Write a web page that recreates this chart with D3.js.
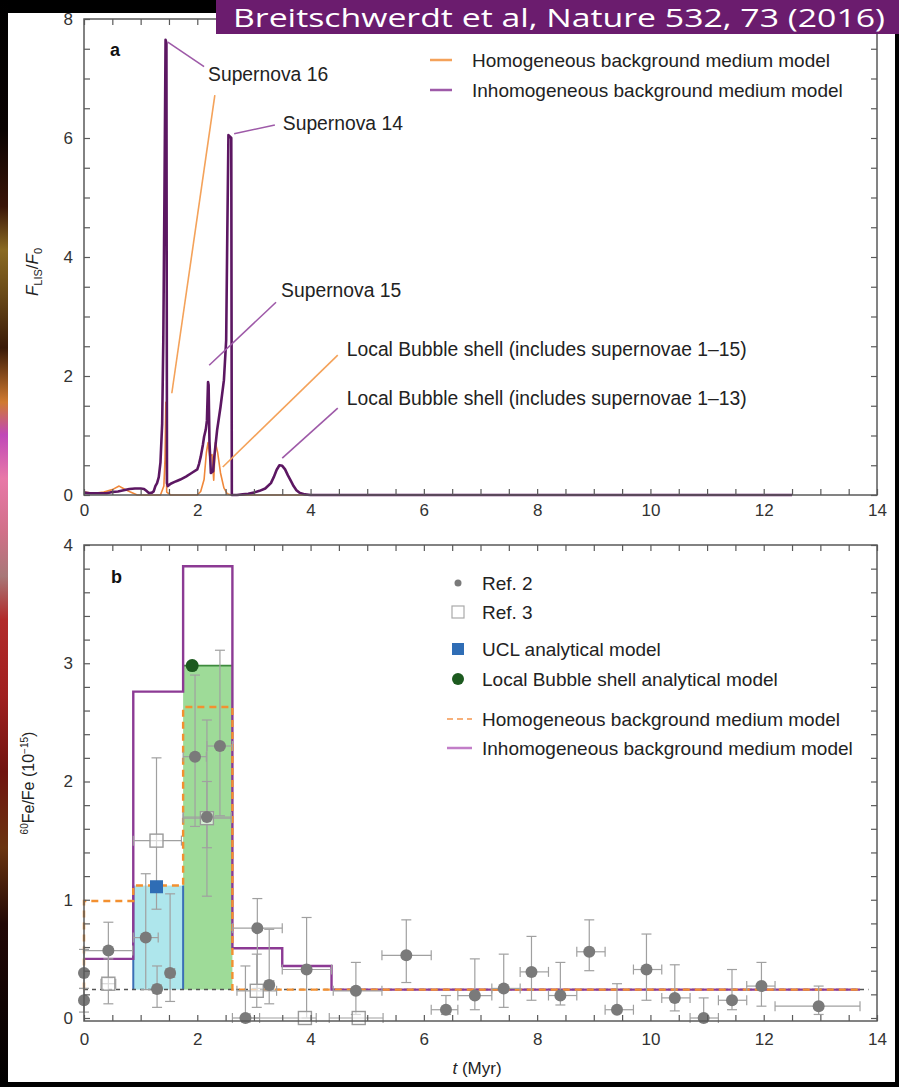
<!DOCTYPE html>
<html>
<head>
<meta charset="utf-8">
<script src="https://cdn.jsdelivr.net/npm/d3@7"></script>
<style>
  html, body { margin: 0; padding: 0; background: #000; }
  svg { display: block; }
</style>
</head>
<body>
<script>
// ---------- Panel a: flux ratio F_LIS/F_0 versus time ----------
const inhomT = [0, 0.1, 0.2, 0.3, 0.4, 0.5, 0.6, 0.7, 0.8, 0.9, 1.0, 1.06, 1.1, 1.15, 1.2, 1.23, 1.26, 1.29, 1.32, 1.35, 1.38, 1.40, 1.42, 1.44, 1.455, 1.465, 1.48, 1.53, 1.6, 1.65, 1.7, 1.8, 1.9, 2.0, 2.03, 2.06, 2.1, 2.12, 2.15, 2.17, 2.19, 2.2, 2.215, 2.24, 2.28, 2.30, 2.35, 2.41, 2.47, 2.51, 2.53, 2.55, 2.6, 2.61, 2.7, 2.8, 2.9, 3.0, 3.1, 3.2, 3.3, 3.35, 3.4, 3.45, 3.5, 3.55, 3.6, 3.65, 3.7, 3.75, 3.8, 3.9, 4.0, 12.5];
const inhomFlux = [0.04, 0.03, 0.03, 0.03, 0.03, 0.05, 0.06, 0.08, 0.1, 0.11, 0.11, 0.1, 0.07, 0.03, 0.04, 0.06, 0.15, 0.2, 0.3, 0.55, 1.2, 2.6, 5.0, 7.65, 7.6, 0.2, 0.15, 0.19, 0.22, 0.24, 0.26, 0.31, 0.37, 0.43, 0.52, 0.64, 0.85, 0.98, 1.1, 1.25, 1.9, 1.85, 0.9, 0.37, 0.4, 0.64, 1.09, 1.48, 1.93, 2.6, 4.4, 6.05, 6.0, 0.0, 0.0, 0.01, 0.02, 0.04, 0.07, 0.11, 0.2, 0.3, 0.42, 0.5, 0.49, 0.43, 0.33, 0.24, 0.15, 0.08, 0.04, 0.01, 0.0, 0.0];

const homT = [0, 0.18, 0.35, 0.5, 0.62, 0.71, 0.82, 0.94, 1.35, 1.41, 1.43, 1.445, 1.46, 1.53, 2.0, 2.06, 2.12, 2.16, 2.19, 2.22, 2.26, 2.29, 2.32, 2.36, 2.41, 2.47, 2.53, 2.6, 12.5];
const homFlux = [0.05, 0.03, 0.05, 0.09, 0.15, 0.1, 0.05, 0.0, 0.0, 0.15, 0.6, 1.56, 0.05, 0.0, 0.0, 0.06, 0.26, 0.71, 0.88, 0.65, 0.68, 0.25, 0.88, 0.71, 0.37, 0.12, 0.02, 0.0, 0.0];

const xTicksMajor = [0, 2, 4, 6, 8, 10, 12, 14];
const yTicksA = [0, 2, 4, 6, 8];
const yTicksB = [0, 1, 2, 3, 4];

// ---------- Panel b: 60Fe/Fe ratio, binned model histograms ----------
const binEdges = [0, 0.87, 1.75, 2.62, 3.5, 4.37, 13.7];
const inhomRatio = [0.5, 2.76, 3.82, 0.59, 0.44, 0.24];
const homRatio = [0.99, 1.12, 2.63, 0.24, 0.24, 0.24];
const backgroundLevel = 0.24;
const uclBin = [0.87, 1.75];
const uclValue = 1.12;
const shellBin = [1.75, 2.62];
const shellValue = 2.98;
const uclPoint = [1.28, 1.11];
const shellPoint = [1.91, 2.98];

// Ref. 2 measurements: time, value, lower, upper, time lower, time upper
const ref2T    = [0, 0, 0.43, 1.09, 1.29, 1.52, 1.96, 2.17, 2.40, 2.85, 3.06, 3.27, 3.93, 4.80, 5.69, 6.39, 6.90, 7.41, 7.90, 8.41, 8.92, 9.41, 9.93, 10.43, 10.94, 11.44, 11.96, 12.97];
const ref2V    = [0.38, 0.15, 0.57, 0.68, 0.245, 0.38, 2.21, 1.70, 2.30, 0.0, 0.76, 0.28, 0.41, 0.23, 0.53, 0.07, 0.19, 0.25, 0.39, 0.19, 0.56, 0.07, 0.41, 0.17, 0.0, 0.15, 0.27, 0.10];
const ref2Lo   = [0.25, 0.05, 0.34, 0.24, 0.09, 0.14, 1.62, 1.03, 1.71, 0.0, 0.25, 0.12, 0.0, 0.03, 0.30, 0.03, 0.07, 0.09, 0.15, 0.11, 0.40, 0.05, 0.15, 0.06, 0.0, 0.07, 0.10, 0.03];
const ref2Hi   = [0.58, 0.25, 0.81, 1.22, 0.44, 1.05, 2.90, 2.52, 3.11, 0.44, 1.01, 0.75, 0.85, 0.47, 0.83, 0.19, 0.50, 0.54, 0.69, 0.47, 0.83, 0.29, 0.71, 0.45, 0.17, 0.41, 0.47, 0.27];
const ref2TLo  = [0, 0, 0.0, 0.87, 1.22, 1.45, 1.75, 1.75, 2.17, 2.62, 2.62, 3.2, 3.5, 4.4, 5.26, 6.13, 6.6, 7.2, 7.7, 8.2, 8.7, 9.2, 9.7, 10.2, 10.7, 11.2, 11.7, 12.2];
const ref2THi  = [0, 0, 0.86, 1.31, 1.36, 1.6, 2.16, 2.6, 2.62, 3.1, 3.5, 3.35, 4.37, 5.26, 6.13, 6.6, 7.2, 7.7, 8.2, 8.7, 9.2, 9.7, 10.2, 10.7, 11.2, 11.7, 12.2, 13.7];

// Ref. 3 measurements
const ref3T   = [0.43, 1.28, 2.17, 3.05, 3.9, 4.85];
const ref3V   = [0.29, 1.50, 1.69, 0.23, 0.0, 0.0];
const ref3Lo  = [0.12, 0.92, 1.44, 0.09, 0.0, 0.0];
const ref3Hi  = [0.50, 2.20, 2.00, 0.54, 0.0, 0.0];
const ref3TLo = [0.3, 0.87, 1.75, 2.7, 2.93, 4.33];
const ref3THi = [0.56, 1.72, 2.6, 3.4, 4.1, 5.28];

const legendA = ["Homogeneous background medium model", "Inhomogeneous background medium model"];
const legendB = ["Ref. 2", "Ref. 3", "UCL analytical model", "Local Bubble shell analytical model", "Homogeneous background medium model", "Inhomogeneous background medium model"];

const W = 899, H = 1087;
const FONT = "'Liberation Sans', Arial, Helvetica, sans-serif";
const C = {
  purpleDark: "#5c1762",
  purpleAnno: "#9e5aa8",
  purpleStep: "#8c3a94",
  orange: "#f0883a",
  orangeAnno: "#f4a25a",
  orangeDash: "#f39030",
  axis: "#5a5a5a",
  text: "#222",
  grey: "#7a7a7a",
  err: "#a0a0a0",
  cyan: "#aee6ec",
  blueEdge: "#3b6fb6",
  green: "#9edb98",
  greenEdge: "#3d8a3d",
  blue: "#2f6db5",
  darkGreen: "#1c5a1f"
};

const svg = d3.select("body").append("svg").attr("width", W).attr("height", H);

// slide backdrop: dark frame, coloured left strip, white sheet
const defs = svg.append("defs");
const grad = defs.append("linearGradient").attr("id", "strip").attr("x1", 0).attr("y1", 0).attr("x2", 0).attr("y2", 1);
[[0, "#000"], [0.12, "#0a0302"], [0.19, "#3a1508"], [0.23, "#8a6a22"], [0.27, "#6a4a18"], [0.32, "#3a1a08"], [0.37, "#d07a30"], [0.40, "#c048b8"], [0.44, "#e878a8"], [0.49, "#d07088"], [0.53, "#a87878"], [0.57, "#b22a2a"], [0.64, "#a02020"], [0.71, "#701410"], [0.78, "#6a3410"], [0.85, "#220806"], [1, "#000"]]
  .forEach(([o, c]) => grad.append("stop").attr("offset", o).attr("stop-color", c));

svg.append("rect").attr("width", W).attr("height", H).attr("fill", "#000");
svg.append("rect").attr("x", 0).attr("y", 0).attr("width", 8).attr("height", H).attr("fill", "url(#strip)");
svg.append("rect").attr("x", 8).attr("y", 13).attr("width", 887).attr("height", 1069).attr("fill", "#fff");

// ---------- scales ----------
const xA = d3.scaleLinear().domain([0, 14]).range([84, 877]);
const yA = d3.scaleLinear().domain([0, 8]).range([495, 19]);
const xB = d3.scaleLinear().domain([0, 14]).range([84, 877]);
const yB = d3.scaleLinear().domain([0, 4]).range([1018, 545]);

function styleAxis(g, showLabels) {
  g.attr("font-family", FONT).attr("font-size", 17);
  g.select(".domain").remove();
  g.selectAll(".tick line").attr("stroke", C.axis).attr("stroke-width", 1.2);
  g.selectAll(".tick text").attr("fill", "#333");
  if (!showLabels) g.selectAll(".tick text").remove();
}

function drawFrame(x, y, yTop, yBottom, yMinorStep, yMajor, labelPadX) {
  const xMinor = d3.range(0, 14.001, 0.5);
  const yMax = y.domain()[1];
  const yMinor = d3.range(0, yMax + 0.0001, yMinorStep);
  const fmtX = d => xTicksMajor.includes(Math.round(d * 100) / 100) ? d3.format("d")(d) : "";
  const fmtY = d => yMajor.some(m => Math.abs(m - d) < 1e-6) ? d3.format("d")(Math.round(d)) : "";
  const left = x.range()[0], right = x.range()[1];

  svg.append("g").attr("transform", `translate(0,${yBottom})`)
    .call(d3.axisBottom(x).tickValues(xMinor).tickSizeInner(-6).tickSizeOuter(0).tickPadding(labelPadX).tickFormat(fmtX))
    .call(g => styleAxis(g, true));
  svg.append("g").attr("transform", `translate(0,${yTop})`)
    .call(d3.axisTop(x).tickValues(xMinor).tickSizeInner(-6).tickSizeOuter(0).tickFormat(""))
    .call(g => styleAxis(g, false));
  svg.append("g").attr("transform", `translate(${left},0)`)
    .call(d3.axisLeft(y).tickValues(yMinor).tickSizeInner(-6).tickSizeOuter(0).tickPadding(11).tickFormat(fmtY))
    .call(g => styleAxis(g, true));
  svg.append("g").attr("transform", `translate(${right},0)`)
    .call(d3.axisRight(y).tickValues(yMinor).tickSizeInner(-6).tickSizeOuter(0).tickFormat(""))
    .call(g => styleAxis(g, false));

  svg.append("rect").attr("x", left).attr("y", yTop).attr("width", right - left).attr("height", yBottom - yTop)
    .attr("fill", "none").attr("stroke", C.axis).attr("stroke-width", 1.5);
}

// ================= Panel a =================
const lineA = d3.line().x(d => xA(d[0])).y(d => yA(d[1]));
const homPts = homT.map((t, i) => [t, homFlux[i]]);
const inhomPts = inhomT.map((t, i) => [t, inhomFlux[i]]);

svg.append("path").attr("d", lineA(homPts)).attr("fill", "none")
  .attr("stroke", C.orange).attr("stroke-width", 1.6).attr("stroke-linejoin", "round");
svg.append("path").attr("d", lineA(inhomPts)).attr("fill", "none")
  .attr("stroke", C.purpleDark).attr("stroke-width", 2.6).attr("stroke-linejoin", "round");

drawFrame(xA, yA, yA(8), yA(0), 0.5, yTicksA, 9);

// annotations with leader lines (data units)
const annotations = [
  { text: "Supernova 16", tx: 2.19, ty: 6.96, lines: [{ c: C.purpleAnno, p: [[1.48, 7.61], [2.12, 7.2]] }, { c: C.orangeAnno, p: [[1.55, 1.71], [2.31, 6.72]] }] },
  { text: "Supernova 14", tx: 3.51, ty: 6.13, lines: [{ c: C.purpleAnno, p: [[2.65, 6.07], [3.37, 6.22]] }] },
  { text: "Supernova 15", tx: 3.48, ty: 3.33, lines: [{ c: C.purpleAnno, p: [[2.21, 2.18], [3.39, 3.24]] }] },
  { text: "Local Bubble shell (includes supernovae 1–15)", tx: 4.64, ty: 2.34, lines: [{ c: C.orangeAnno, p: [[2.45, 0.47], [4.48, 2.35]] }] },
  { text: "Local Bubble shell (includes supernovae 1–13)", tx: 4.64, ty: 1.51, lines: [{ c: C.purpleAnno, p: [[3.5, 0.62], [4.48, 1.46]] }] }
];
annotations.forEach(a => {
  a.lines.forEach(l => {
    svg.append("path").attr("d", lineA(l.p)).attr("stroke", l.c).attr("stroke-width", 1.6).attr("fill", "none");
  });
  svg.append("text").attr("x", xA(a.tx)).attr("y", yA(a.ty)).text(a.text)
    .attr("font-family", FONT).attr("font-size", 19.3).attr("fill", C.text);
});

svg.append("text").attr("x", 110).attr("y", 56).text("a")
  .attr("font-family", FONT).attr("font-weight", "bold").attr("font-size", 18).attr("fill", "#111");

// legend a
const legAColors = [C.orangeAnno, C.purpleAnno];
legendA.forEach((label, i) => {
  const yy = 60 + i * 30;
  svg.append("line").attr("x1", 430).attr("x2", 452).attr("y1", yy).attr("y2", yy)
    .attr("stroke", legAColors[i]).attr("stroke-width", 2.5);
  svg.append("text").attr("x", 472).attr("y", yy).attr("dy", "0.35em").text(label)
    .attr("font-family", FONT).attr("font-size", 19).attr("fill", C.text);
});

// y title a
const yTitleA = svg.append("text").attr("transform", "translate(38,272) rotate(-90)")
  .attr("text-anchor", "middle").attr("font-family", FONT).attr("font-size", 17).attr("fill", C.text);
yTitleA.append("tspan").attr("font-style", "italic").text("F");
yTitleA.append("tspan").attr("font-size", 11).attr("dy", 4).text("LIS");
yTitleA.append("tspan").attr("dy", -4).text("/");
yTitleA.append("tspan").attr("font-style", "italic").text("F");
yTitleA.append("tspan").attr("font-size", 11).attr("dy", 4).text("0");

// ================= Panel b =================
// model bars
svg.append("rect").attr("x", xB(uclBin[0])).attr("width", xB(uclBin[1]) - xB(uclBin[0]))
  .attr("y", yB(uclValue)).attr("height", yB(backgroundLevel) - yB(uclValue)).attr("fill", C.cyan);
svg.append("rect").attr("x", xB(shellBin[0])).attr("width", xB(shellBin[1]) - xB(shellBin[0]))
  .attr("y", yB(shellValue)).attr("height", yB(backgroundLevel) - yB(shellValue)).attr("fill", C.green);
[uclBin[0], uclBin[1]].forEach(t => {
  svg.append("line").attr("x1", xB(t)).attr("x2", xB(t)).attr("y1", yB(uclValue)).attr("y2", yB(backgroundLevel))
    .attr("stroke", C.blueEdge).attr("stroke-width", 2);
});
svg.append("line").attr("x1", xB(shellBin[0])).attr("x2", xB(shellBin[1])).attr("y1", yB(shellValue)).attr("y2", yB(shellValue))
  .attr("stroke", C.greenEdge).attr("stroke-width", 1.6);

// background level
svg.append("line").attr("x1", xB(0)).attr("x2", xB(13.85)).attr("y1", yB(backgroundLevel)).attr("y2", yB(backgroundLevel))
  .attr("stroke", "#555").attr("stroke-width", 1.5).attr("stroke-dasharray", "4,4");

// step lines
const stepLine = d3.line().x(d => xB(d[0])).y(d => yB(d[1])).curve(d3.curveStepAfter);
const homSteps = [[0, backgroundLevel]].concat(homRatio.map((v, i) => [binEdges[i], v]), [[binEdges[binEdges.length - 1], homRatio[homRatio.length - 1]]]);
const inhomSteps = inhomRatio.map((v, i) => [binEdges[i], v]).concat([[binEdges[binEdges.length - 1], inhomRatio[inhomRatio.length - 1]]]);
svg.append("path").attr("d", stepLine(inhomSteps)).attr("fill", "none")
  .attr("stroke", C.purpleStep).attr("stroke-width", 2.4);
svg.append("path").attr("d", stepLine(homSteps)).attr("fill", "none")
  .attr("stroke", C.orangeDash).attr("stroke-width", 2.4).attr("stroke-dasharray", "7,5");

// error bars
function errorBars(T, V, Lo, Hi, TLo, THi) {
  const g = svg.append("g").attr("stroke", C.err).attr("stroke-width", 1.2).attr("fill", "none");
  T.forEach((t, i) => {
    const cx = xB(t), cy = yB(V[i]);
    if (Hi[i] > Lo[i]) {
      g.append("line").attr("x1", cx).attr("x2", cx).attr("y1", yB(Lo[i])).attr("y2", yB(Hi[i]));
      [Lo[i], Hi[i]].forEach(v => g.append("line").attr("x1", cx - 5).attr("x2", cx + 5).attr("y1", yB(v)).attr("y2", yB(v)));
    }
    if (THi[i] > TLo[i]) {
      g.append("line").attr("x1", xB(TLo[i])).attr("x2", xB(THi[i])).attr("y1", cy).attr("y2", cy);
      [TLo[i], THi[i]].forEach(tt => g.append("line").attr("x1", xB(tt)).attr("x2", xB(tt)).attr("y1", cy - 5).attr("y2", cy + 5));
    }
  });
}
errorBars(ref3T, ref3V, ref3Lo, ref3Hi, ref3TLo, ref3THi);
errorBars(ref2T, ref2V, ref2Lo, ref2Hi, ref2TLo, ref2THi);

// Ref. 3 open squares
ref3T.forEach((t, i) => {
  svg.append("rect").attr("x", xB(t) - 6.5).attr("y", yB(ref3V[i]) - 6.5).attr("width", 13).attr("height", 13)
    .attr("fill", "rgba(255,255,255,0.6)").attr("stroke", "#9a9a9a").attr("stroke-width", 1.4);
});
// Ref. 2 filled dots
ref2T.forEach((t, i) => {
  svg.append("circle").attr("cx", xB(t)).attr("cy", yB(ref2V[i])).attr("r", 6).attr("fill", C.grey);
});

// analytical model points
svg.append("rect").attr("x", xB(uclPoint[0]) - 6.5).attr("y", yB(uclPoint[1]) - 6.5).attr("width", 13).attr("height", 13)
  .attr("fill", C.blue);
svg.append("circle").attr("cx", xB(shellPoint[0])).attr("cy", yB(shellPoint[1])).attr("r", 6.5).attr("fill", C.darkGreen);

drawFrame(xB, yB, yB(4), yB(0) + 3, 0.2, yTicksB, 12);

svg.append("text").attr("x", 111).attr("y", 583).text("b")
  .attr("font-family", FONT).attr("font-weight", "bold").attr("font-size", 18).attr("fill", "#111");

// legend b
const legY = [583, 612, 649, 679, 719, 748];
const legB = svg.append("g");
legB.append("circle").attr("cx", 458).attr("cy", legY[0]).attr("r", 3.5).attr("fill", C.grey);
legB.append("rect").attr("x", 452).attr("y", legY[1] - 6).attr("width", 12).attr("height", 12)
  .attr("fill", "#fff").attr("stroke", "#aaa").attr("stroke-width", 1.2);
legB.append("rect").attr("x", 452).attr("y", legY[2] - 6).attr("width", 12).attr("height", 12).attr("fill", C.blue);
legB.append("circle").attr("cx", 458).attr("cy", legY[3]).attr("r", 6).attr("fill", C.darkGreen);
legB.append("line").attr("x1", 447).attr("x2", 472).attr("y1", legY[4]).attr("y2", legY[4])
  .attr("stroke", "#f7b07a").attr("stroke-width", 2).attr("stroke-dasharray", "6,4");
legB.append("line").attr("x1", 447).attr("x2", 472).attr("y1", legY[5]).attr("y2", legY[5])
  .attr("stroke", "#c27ec8").attr("stroke-width", 2.5);
legendB.forEach((label, i) => {
  legB.append("text").attr("x", 482).attr("y", legY[i]).attr("dy", "0.35em").text(label)
    .attr("font-family", FONT).attr("font-size", 19).attr("fill", C.text);
});

// y title b
const yTitleB = svg.append("text").attr("transform", "translate(34,783) rotate(-90)")
  .attr("text-anchor", "middle").attr("font-family", FONT).attr("font-size", 16).attr("fill", C.text);
yTitleB.append("tspan").attr("font-size", 10).attr("dy", -6).text("60");
yTitleB.append("tspan").attr("dy", 6).text("Fe/Fe (10");
yTitleB.append("tspan").attr("font-size", 10).attr("dy", -6).text("−15");
yTitleB.append("tspan").attr("dy", 6).text(")");

// x title
const xTitle = svg.append("text").attr("x", 477).attr("y", 1074).attr("text-anchor", "middle")
  .attr("font-family", FONT).attr("font-size", 17).attr("fill", C.text);
xTitle.append("tspan").attr("font-style", "italic").text("t");
xTitle.append("tspan").text(" (Myr)");

// ---------- citation banner ----------
svg.append("rect").attr("x", 216).attr("y", 0).attr("width", W - 216).attr("height", 34).attr("fill", "#6b1c6e");
svg.append("text").attr("x", 233).attr("y", 27).text("Breitschwerdt et al, Nature 532, 73 (2016)")
  .attr("font-family", "'Open Sans', 'Noto Sans', sans-serif").attr("font-size", 25)
  .attr("textLength", 652).attr("lengthAdjust", "spacingAndGlyphs").attr("fill", "#fff");
</script>
</body>
</html>
